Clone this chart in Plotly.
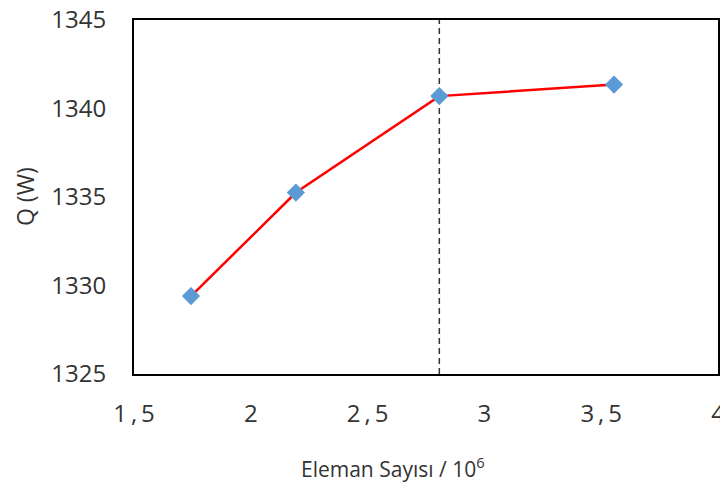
import plotly.graph_objects as go

x_vals = [1.744, 2.193, 2.807, 3.555]
q_vals = [1329.4, 1335.25, 1340.7, 1341.35]
ref_x = 2.807
x_ticks = [1.5, 2, 2.5, 3, 3.5, 4]
x_ticktext = ["1\u2009,\u20095", "2", "2\u2009,\u20095", "3", "3\u2009,\u20095", "4"]
y_ticks = [1325, 1330, 1335, 1340, 1345]

font_family = "Open Sans"
txt_color = "#333333"

fig = go.Figure()
fig.add_trace(go.Scatter(
    x=x_vals, y=q_vals, mode="lines+markers",
    line=dict(color="#FF0000", width=2.5),
    marker=dict(symbol="diamond", size=14, color="#5B9BD5"),
    showlegend=False,
))
fig.add_shape(type="line", x0=ref_x, x1=ref_x, y0=0, y1=1, xref="x", yref="paper",
              line=dict(color="#333333", width=1.5, dash="6px,4px"), layer="below")

fig.update_layout(
    width=720, height=487,
    margin=dict(l=134, r=2, t=20, b=113, autoexpand=False),
    plot_bgcolor="white", paper_bgcolor="white",
    font=dict(family=font_family, color=txt_color, size=24),
    xaxis=dict(range=[1.5, 4], tickvals=x_ticks, ticktext=x_ticktext,
               showgrid=False, zeroline=False, showline=True, linecolor="black",
               linewidth=2, mirror=True, ticks="", ticklabelstandoff=17,
               automargin=False, ticklabeloverflow="allow",
               tickfont=dict(size=24, color=txt_color)),
    yaxis=dict(range=[1325, 1345], tickvals=y_ticks,
               showgrid=False, zeroline=False, showline=True, linecolor="black",
               linewidth=2, mirror=True, ticks="", ticklabelstandoff=21,
               automargin=False,
               tickfont=dict(size=24, color=txt_color)),
)
fig.add_annotation(text="Q (W)", xref="paper", yref="paper", textangle=-90,
                   x=(25 - 134) / (718 - 134), y=0.5, xanchor="center", yanchor="middle",
                   showarrow=False, font=dict(size=23, color=txt_color))
fig.add_annotation(text="Eleman Sayısı / 10<sup>6</sup>", xref="paper", yref="paper",
                   x=(393 - 134) / (718 - 134), y=-(467 - 374) / (374 - 20),
                   xanchor="center", yanchor="middle",
                   showarrow=False, font=dict(size=21, color=txt_color))

fig.write_html("out.html", config={"displayModeBar": False},
               post_script="document.body.style.margin='0';document.body.style.overflow='hidden';")
